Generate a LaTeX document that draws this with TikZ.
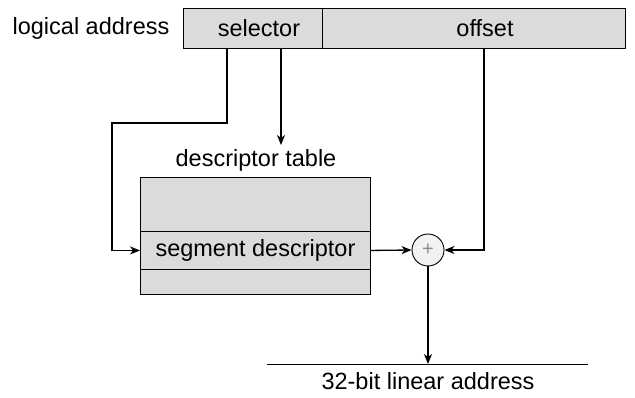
\documentclass[tikz,border=0pt]{standalone}
\usepackage{fontspec}
\setmainfont{Liberation Sans}
\usetikzlibrary{arrows.meta,calc}
\begin{document}
\begin{tikzpicture}[x=1pt,y=-1pt,
  font=\fontsize{23.5}{28}\selectfont,
  cell/.style={draw, line width=0.9pt, fill=black!14, inner sep=0pt, anchor=north west},
  conn/.style={line width=1.3pt, -{Stealth[length=10pt,width=8pt,inset=3pt]}},
  lbl/.style={inner sep=0pt}]
\useasboundingbox (0,0) rectangle (635,398);
% logical address
\node[lbl] (la) at (91,28) {logical address};
\node[cell, minimum width=139pt, minimum height=40pt] (sel) at (183,8) {};
\node[cell, minimum width=303pt, minimum height=40pt] (off) at (322,8) {};
\node[lbl] (seltxt) at (259,28) {selector};
\node[lbl] (offtxt) at (485,28) {offset};
% descriptor table
\node[lbl] (dtl) at (256,160) {descriptor table};
\node[cell, minimum width=230pt, minimum height=54pt] (rowa) at (140,177) {};
\node[cell, minimum width=230pt, minimum height=38pt] (seg) at (140,231) {segment descriptor};
\node[cell, minimum width=230pt, minimum height=25pt] (rowc) at (140,269) {};
% adder
\node[draw, circle, line width=0.9pt, fill=black!5, minimum size=32pt, inner sep=0pt] (plus) at (428,250) {\textcolor{black!45}{\fontsize{20}{20}\selectfont +}};
% linear address
\coordinate (bl1) at (267,364);
\coordinate (bl2) at (588,364);
\draw[line width=1pt] (bl1) -- (bl2);
\node[lbl] (lin) at (428,381) {32-bit linear address};
% helper coordinates
\coordinate (s1) at (227,0);
\coordinate (s2) at (281,0);
\coordinate (o1) at (484,0);
\coordinate (bend) at (112,123);
\coordinate (dtin) at (281,145);
% connectors
\draw[conn] (sel.south -| s1) |- (bend) |- (seg.west);
\draw[conn] (sel.south -| s2) -- (dtin);
\draw[conn] (seg.east) -- (plus.west);
\draw[conn] (off.south -| o1) |- (plus.east);
\draw[conn] (plus.south) -- (plus.south |- bl1);
\end{tikzpicture}
\end{document}
